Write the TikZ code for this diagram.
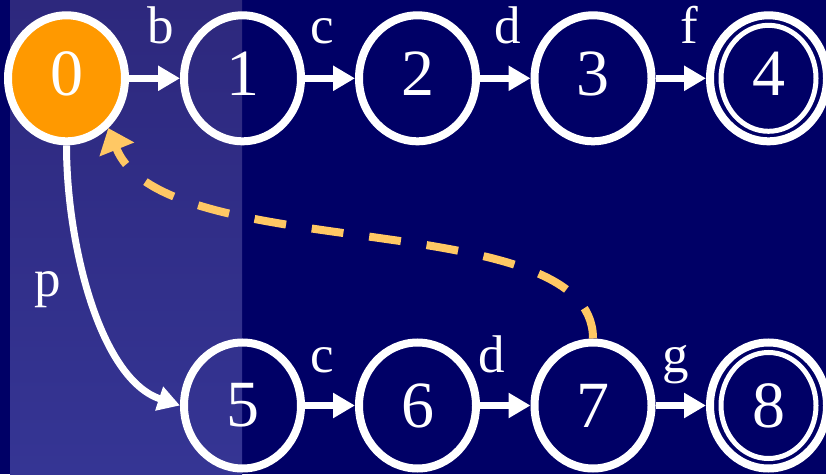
\documentclass[tikz,border=0pt]{standalone}
\usepackage{fontspec}
\setmainfont{Liberation Serif}
\usetikzlibrary{shapes.geometric,arrows.meta}
\definecolor{navy}{RGB}{0,0,102}
\definecolor{bandtop}{RGB}{45,40,125}
\definecolor{bandbot}{RGB}{53,53,148}
\definecolor{startor}{RGB}{255,153,0}
\definecolor{backor}{RGB}{255,200,100}
\begin{document}
\begin{tikzpicture}[x=1pt,y=1pt,
  st/.style={ellipse, draw=white, line width=8pt, minimum width=117pt, minimum height=126pt,
    inner sep=0pt, text=white, font=\fontsize{66}{66}\selectfont},
  toprow/.style={text depth=9pt},
  innerring/.style={draw=white, line width=5pt},
  edge/.style={draw=white, line width=7pt, -{Triangle[length=22pt,width=24pt]}},
  back/.style={draw=backor, line width=8pt, dash pattern=on 32pt off 26pt,
    -{Triangle[length=23pt,width=36pt]}},
  lbl/.style={text=white, font=\fontsize{53}{53}\selectfont, anchor=base, inner sep=0pt}]
\fill[navy] (0,0) rectangle (826,474);
\useasboundingbox (0,0) rectangle (826,474);
\shade[top color=bandtop, bottom color=bandbot] (10,0) rectangle (242,474);

% states
\node[st,toprow,fill=startor] (n0) at (66.5,395.7) {0};
\node[st,toprow] (n1) at (242.5,395.7) {1};
\node[st,toprow] (n2) at (417.5,395.7) {2};
\node[st,toprow] (n3) at (593,395.7) {3};
\node[st,toprow] (n4) at (768.5,395.7) {4};
\node[st] (n5) at (242.5,68.5) {5};
\node[st] (n6) at (417.5,68.5) {6};
\node[st] (n7) at (593,68.5) {7};
\node[st] (n8) at (768.5,68.5) {8};
\draw[innerring] (n4.center) ellipse [x radius=47.5, y radius=53];
\draw[innerring] (n8.center) ellipse [x radius=47.5, y radius=53];

% transitions
\draw[edge] (n0) -- (n1);
\draw[edge] (n1) -- (n2);
\draw[edge] (n2) -- (n3);
\draw[edge] (n3) -- (n4);
\draw[edge] (n5) -- (n6);
\draw[edge] (n6) -- (n7);
\draw[edge] (n7) -- (n8);
\draw[edge] (n0.south) .. controls (66.5,230) and (100,95) .. (n5.west);
\draw[back] (n7.north) .. controls (593,271) and (164,207) .. (n0.-50);

% labels
\node[lbl] (lb) at (161,430) {b};
\node[lbl] (lc1) at (322.5,430) {c};
\node[lbl] (ld1) at (508,430) {d};
\node[lbl] (lf) at (689,430) {f};
\node[lbl] (lp) at (47.5,178) {p};
\node[lbl] (lc2) at (322.5,102) {c};
\node[lbl] (ld2) at (491.5,102) {d};
\node[lbl] (lg) at (675.5,102) {g};
\end{tikzpicture}
\end{document}
